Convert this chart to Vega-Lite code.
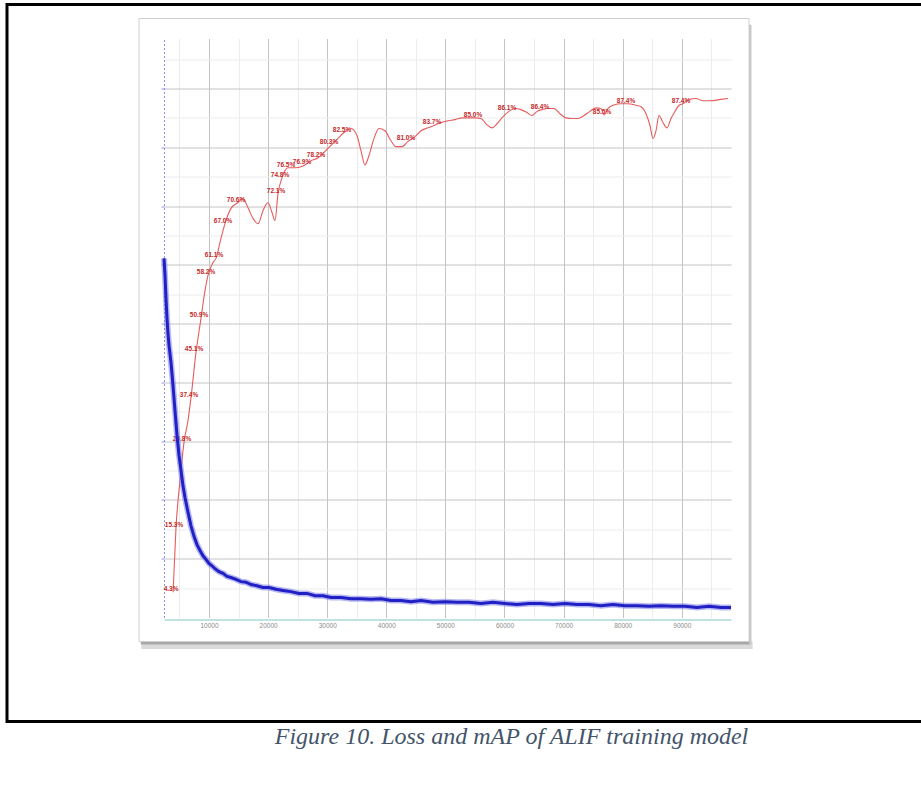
{
  "$schema": "https://vega.github.io/schema/vega-lite/v6.json",
  "background": "white",
  "padding": {"left": 5, "top": 2.5, "right": 0, "bottom": 0},
  "spacing": -3,
  "config": {
    "view": {"stroke": "black", "strokeWidth": 3},
    "font": "Liberation Sans"
  },
  "datasets": {
    "loss": [
      {"it": 2386, "loss": 6.11}, {"it": 2555, "loss": 5.82}, {"it": 2724, "loss": 5.43}, {"it": 2893, "loss": 5.09},
      {"it": 3063, "loss": 4.83}, {"it": 3232, "loss": 4.63}, {"it": 3570, "loss": 4.34}, {"it": 3909, "loss": 3.95},
      {"it": 4247, "loss": 3.52}, {"it": 4586, "loss": 3.10}, {"it": 4924, "loss": 2.76}, {"it": 5262, "loss": 2.50},
      {"it": 5601, "loss": 2.24}, {"it": 5939, "loss": 2.04}, {"it": 6447, "loss": 1.79}, {"it": 6954, "loss": 1.56},
      {"it": 7462, "loss": 1.38}, {"it": 7970, "loss": 1.24}, {"it": 8477, "loss": 1.14}, {"it": 8985, "loss": 1.05},
      {"it": 9492, "loss": 0.99}, {"it": 10000, "loss": 0.92}, {"it": 10508, "loss": 0.88}, {"it": 11015, "loss": 0.83},
      {"it": 11692, "loss": 0.78}, {"it": 12369, "loss": 0.75}, {"it": 13046, "loss": 0.70}, {"it": 13722, "loss": 0.68},
      {"it": 14568, "loss": 0.65}, {"it": 15414, "loss": 0.61}, {"it": 16260, "loss": 0.60}, {"it": 17106, "loss": 0.56},
      {"it": 18121, "loss": 0.54}, {"it": 19137, "loss": 0.51}, {"it": 20152, "loss": 0.51}, {"it": 21336, "loss": 0.48},
      {"it": 22520, "loss": 0.46}, {"it": 23874, "loss": 0.44}, {"it": 25228, "loss": 0.41}, {"it": 26581, "loss": 0.41},
      {"it": 27935, "loss": 0.37}, {"it": 29288, "loss": 0.37}, {"it": 30642, "loss": 0.34}, {"it": 32334, "loss": 0.34},
      {"it": 34026, "loss": 0.32}, {"it": 35718, "loss": 0.32}, {"it": 37410, "loss": 0.31}, {"it": 39103, "loss": 0.32},
      {"it": 40795, "loss": 0.29}, {"it": 42487, "loss": 0.29}, {"it": 44179, "loss": 0.27}, {"it": 45871, "loss": 0.29},
      {"it": 47902, "loss": 0.26}, {"it": 49932, "loss": 0.27}, {"it": 51963, "loss": 0.26}, {"it": 53993, "loss": 0.26},
      {"it": 56024, "loss": 0.24}, {"it": 58054, "loss": 0.26}, {"it": 60085, "loss": 0.24}, {"it": 62115, "loss": 0.22},
      {"it": 64146, "loss": 0.24}, {"it": 66176, "loss": 0.24}, {"it": 68207, "loss": 0.22}, {"it": 70237, "loss": 0.24},
      {"it": 72268, "loss": 0.22}, {"it": 74298, "loss": 0.22}, {"it": 76329, "loss": 0.20}, {"it": 78359, "loss": 0.22},
      {"it": 80390, "loss": 0.20}, {"it": 82420, "loss": 0.20}, {"it": 84451, "loss": 0.19}, {"it": 86481, "loss": 0.20},
      {"it": 88512, "loss": 0.19}, {"it": 90542, "loss": 0.19}, {"it": 92573, "loss": 0.17}, {"it": 94603, "loss": 0.19},
      {"it": 96634, "loss": 0.17}, {"it": 98326, "loss": 0.17}
    ],
    "map": [
      {"it": 3925, "map": 0.043, "lab": 1}, {"it": 4416, "map": 0.153, "lab": 1}, {"it": 5093, "map": 0.233, "lab": 0},
      {"it": 5770, "map": 0.298, "lab": 1}, {"it": 6447, "map": 0.335, "lab": 0}, {"it": 6954, "map": 0.374, "lab": 1},
      {"it": 7800, "map": 0.451, "lab": 1}, {"it": 8646, "map": 0.509, "lab": 1}, {"it": 9323, "map": 0.556, "lab": 0},
      {"it": 9831, "map": 0.582, "lab": 1}, {"it": 10677, "map": 0.604, "lab": 0}, {"it": 11184, "map": 0.611, "lab": 1},
      {"it": 12030, "map": 0.645, "lab": 0}, {"it": 12707, "map": 0.670, "lab": 1}, {"it": 13722, "map": 0.696, "lab": 0},
      {"it": 14907, "map": 0.706, "lab": 1}, {"it": 15753, "map": 0.713, "lab": 0}, {"it": 16599, "map": 0.697, "lab": 0},
      {"it": 17445, "map": 0.679, "lab": 0}, {"it": 18290, "map": 0.670, "lab": 0}, {"it": 19137, "map": 0.692, "lab": 0},
      {"it": 19983, "map": 0.706, "lab": 0}, {"it": 20660, "map": 0.689, "lab": 0}, {"it": 21167, "map": 0.675, "lab": 0},
      {"it": 21675, "map": 0.721, "lab": 1}, {"it": 22352, "map": 0.748, "lab": 1}, {"it": 23367, "map": 0.765, "lab": 1},
      {"it": 24721, "map": 0.765, "lab": 0}, {"it": 26074, "map": 0.769, "lab": 1}, {"it": 27259, "map": 0.777, "lab": 0},
      {"it": 28443, "map": 0.782, "lab": 1}, {"it": 29628, "map": 0.793, "lab": 0}, {"it": 30643, "map": 0.803, "lab": 1},
      {"it": 31827, "map": 0.815, "lab": 0}, {"it": 32842, "map": 0.825, "lab": 1}, {"it": 34027, "map": 0.832, "lab": 0},
      {"it": 35042, "map": 0.820, "lab": 0}, {"it": 35718, "map": 0.794, "lab": 0}, {"it": 36395, "map": 0.770, "lab": 0},
      {"it": 37072, "map": 0.786, "lab": 0}, {"it": 37918, "map": 0.815, "lab": 0}, {"it": 38764, "map": 0.832, "lab": 0},
      {"it": 39779, "map": 0.828, "lab": 0}, {"it": 40795, "map": 0.811, "lab": 0}, {"it": 41641, "map": 0.801, "lab": 0},
      {"it": 42656, "map": 0.801, "lab": 0}, {"it": 43672, "map": 0.810, "lab": 1}, {"it": 44856, "map": 0.818, "lab": 0},
      {"it": 45871, "map": 0.828, "lab": 0}, {"it": 47056, "map": 0.833, "lab": 0}, {"it": 48071, "map": 0.837, "lab": 1},
      {"it": 49255, "map": 0.842, "lab": 0}, {"it": 50440, "map": 0.845, "lab": 0}, {"it": 51624, "map": 0.847, "lab": 0},
      {"it": 52809, "map": 0.850, "lab": 0}, {"it": 53993, "map": 0.850, "lab": 0}, {"it": 55008, "map": 0.850, "lab": 1},
      {"it": 56024, "map": 0.849, "lab": 0}, {"it": 57039, "map": 0.838, "lab": 0}, {"it": 57885, "map": 0.833, "lab": 0},
      {"it": 58731, "map": 0.840, "lab": 0}, {"it": 59746, "map": 0.852, "lab": 0}, {"it": 60762, "map": 0.861, "lab": 1},
      {"it": 61777, "map": 0.866, "lab": 0}, {"it": 62792, "map": 0.864, "lab": 0}, {"it": 63807, "map": 0.859, "lab": 0},
      {"it": 64653, "map": 0.854, "lab": 0}, {"it": 65499, "map": 0.861, "lab": 0}, {"it": 66345, "map": 0.864, "lab": 1},
      {"it": 67360, "map": 0.866, "lab": 0}, {"it": 68376, "map": 0.866, "lab": 0}, {"it": 69391, "map": 0.857, "lab": 0},
      {"it": 70406, "map": 0.850, "lab": 0}, {"it": 71421, "map": 0.849, "lab": 0}, {"it": 72437, "map": 0.849, "lab": 0},
      {"it": 73452, "map": 0.854, "lab": 0}, {"it": 74467, "map": 0.861, "lab": 0}, {"it": 75482, "map": 0.867, "lab": 0},
      {"it": 76329, "map": 0.866, "lab": 0}, {"it": 76836, "map": 0.855, "lab": 1}, {"it": 77513, "map": 0.866, "lab": 0},
      {"it": 78528, "map": 0.872, "lab": 0}, {"it": 79712, "map": 0.874, "lab": 0}, {"it": 80897, "map": 0.874, "lab": 1},
      {"it": 82081, "map": 0.872, "lab": 0}, {"it": 83096, "map": 0.869, "lab": 0}, {"it": 83942, "map": 0.857, "lab": 0},
      {"it": 84619, "map": 0.837, "lab": 0}, {"it": 85127, "map": 0.815, "lab": 0}, {"it": 85634, "map": 0.828, "lab": 0},
      {"it": 86142, "map": 0.854, "lab": 0}, {"it": 86819, "map": 0.842, "lab": 0}, {"it": 87496, "map": 0.833, "lab": 0},
      {"it": 88173, "map": 0.849, "lab": 0}, {"it": 88850, "map": 0.861, "lab": 0}, {"it": 89526, "map": 0.871, "lab": 0},
      {"it": 90203, "map": 0.874, "lab": 1}, {"it": 91218, "map": 0.881, "lab": 0}, {"it": 92403, "map": 0.883, "lab": 0},
      {"it": 93587, "map": 0.879, "lab": 0}, {"it": 94941, "map": 0.879, "lab": 0}, {"it": 96295, "map": 0.881, "lab": 0},
      {"it": 97817, "map": 0.883, "lab": 0}
    ]
  },
  "vconcat": [
    {
      "width": 920,
      "height": 717,
      "resolve": {"scale": {"x": "independent", "y": "independent"}},
      "layer": [
        {
          "data": {"values": [{}]},
          "layer": [
            {
              "mark": {"type": "rect", "fill": "#dadada"},
              "encoding": {
                "x": {"datum": 0.004, "type": "quantitative", "scale": {"domain": [0, 1], "range": [132, 742], "nice": false, "zero": false}, "axis": null},
                "x2": {"datum": 1.006},
                "y": {"datum": 1.0, "type": "quantitative", "scale": {"domain": [0, 1], "range": [14, 637], "nice": false, "zero": false}, "axis": null},
                "y2": {"datum": 1.012}
              }
            },
            {
              "mark": {"type": "rect", "fill": "#a8a8a8"},
              "encoding": {
                "x": {"datum": 0.003, "type": "quantitative", "scale": {"domain": [0, 1], "range": [132, 742], "nice": false, "zero": false}, "axis": null},
                "x2": {"datum": 1.003},
                "y": {"datum": 1.0, "type": "quantitative", "scale": {"domain": [0, 1], "range": [14, 637], "nice": false, "zero": false}, "axis": null},
                "y2": {"datum": 1.005}
              }
            },
            {
              "mark": {"type": "rect", "fill": "#c6c6c6"},
              "encoding": {
                "x": {"datum": 1.0, "type": "quantitative", "scale": {"domain": [0, 1], "range": [132, 742], "nice": false, "zero": false}, "axis": null},
                "x2": {"datum": 1.004},
                "y": {"datum": 0.01, "type": "quantitative", "scale": {"domain": [0, 1], "range": [14, 637], "nice": false, "zero": false}, "axis": null},
                "y2": {"datum": 1.004}
              }
            },
            {
              "mark": {"type": "rect", "filled": false, "stroke": "#cfcfcf", "strokeWidth": 1},
              "encoding": {
                "x": {"datum": 0, "type": "quantitative", "scale": {"domain": [0, 1], "range": [132, 742], "nice": false, "zero": false}, "axis": null},
                "x2": {"datum": 1},
                "y": {"datum": 0, "type": "quantitative", "scale": {"domain": [0, 1], "range": [14, 637], "nice": false, "zero": false}, "axis": null},
                "y2": {"datum": 1}
              }
            }
          ]
        },
        {
          "data": {"values": []},
          "mark": {"type": "point", "opacity": 0},
          "encoding": {
            "x": {
              "field": "it", "type": "quantitative",
              "scale": {"domain": [2386, 98326], "range": [157, 724], "nice": false, "zero": false},
              "axis": {"orient": "top", "offset": 0, "values": [5000, 15000, 25000, 35000, 45000, 55000, 65000, 75000, 85000, 95000], "grid": true, "gridColor": "#ececec", "gridWidth": 1, "domain": false, "ticks": false, "labels": false, "title": null}
            },
            "y": {
              "field": "loss", "type": "quantitative",
              "scale": {"domain": [0, 9.85], "range": [613, 34], "nice": false, "zero": false},
              "axis": {"orient": "left", "offset": -157, "values": [0.5, 1.5, 2.5, 3.5, 4.5, 5.5, 6.5, 7.5, 8.5, 9.5], "grid": true, "gridColor": "#ececec", "gridWidth": 1, "domain": false, "ticks": false, "labels": false, "title": null}
            }
          }
        },
        {
          "data": {"values": []},
          "mark": {"type": "point", "opacity": 0},
          "encoding": {
            "x": {
              "field": "it", "type": "quantitative",
              "scale": {"domain": [2386, 98326], "range": [157, 724], "nice": false, "zero": false},
              "axis": {"orient": "top", "offset": 0, "values": [10000, 20000, 30000, 40000, 50000, 60000, 70000, 80000, 90000], "grid": true, "gridColor": "#c4c4c4", "gridWidth": 1, "domain": false, "ticks": false, "labels": false, "title": null}
            },
            "y": {
              "field": "loss", "type": "quantitative",
              "scale": {"domain": [0, 9.85], "range": [613, 34], "nice": false, "zero": false},
              "axis": {"orient": "left", "offset": -157, "values": [1, 2, 3, 4, 5, 6, 7, 8, 9], "grid": true, "gridColor": "#c4c4c4", "gridWidth": 1, "domain": true, "domainColor": "#8f8ff0", "domainDash": [2, 2], "domainWidth": 1, "ticks": true, "tickColor": "#8f8ff0", "tickSize": 3, "labels": false, "title": null}
            }
          }
        },
        {
          "data": {"name": "map"},
          "mark": {"type": "line", "color": "#e65c5c", "strokeWidth": 1.1, "interpolate": "monotone"},
          "encoding": {
            "x": {"field": "it", "type": "quantitative", "scale": {"domain": [2386, 98326], "range": [157, 724], "nice": false, "zero": false}, "axis": null},
            "y": {"field": "map", "type": "quantitative", "scale": {"domain": [0, 0.985], "range": [613, 34], "nice": false, "zero": false}, "axis": null}
          }
        },
        {
          "data": {"name": "map"},
          "transform": [{"filter": "datum.lab == 1"}],
          "mark": {"type": "text", "color": "#c42a2a", "fontSize": 6.5, "fontWeight": "bold", "dx": -2, "dy": -3},
          "encoding": {
            "x": {"field": "it", "type": "quantitative", "scale": {"domain": [2386, 98326], "range": [157, 724], "nice": false, "zero": false}, "axis": null},
            "y": {"field": "map", "type": "quantitative", "scale": {"domain": [0, 0.985], "range": [613, 34], "nice": false, "zero": false}, "axis": null},
            "text": {"field": "map", "type": "quantitative", "format": ".1%"}
          }
        },
        {
          "data": {"name": "loss"},
          "mark": {"type": "line", "color": "#7c7ce8", "strokeWidth": 6, "opacity": 0.55},
          "encoding": {
            "x": {
              "field": "it", "type": "quantitative",
              "scale": {"domain": [2386, 98326], "range": [157, 724], "nice": false, "zero": false},
              "axis": {"orient": "bottom", "offset": -102, "values": [10000, 20000, 30000, 40000, 50000, 60000, 70000, 80000, 90000], "format": "d", "grid": false, "domain": true, "domainColor": "#bfe2df", "domainWidth": 2, "ticks": false, "labels": true, "labelFontSize": 6.5, "labelColor": "#8c8c8c", "labelPadding": 3, "title": null}
            },
            "y": {"field": "loss", "type": "quantitative", "scale": {"domain": [0, 9.85], "range": [613, 34], "nice": false, "zero": false}, "axis": null}
          }
        },
        {
          "data": {"name": "loss"},
          "mark": {"type": "line", "color": "#2020c4", "strokeWidth": 3},
          "encoding": {
            "x": {"field": "it", "type": "quantitative", "scale": {"domain": [2386, 98326], "range": [157, 724], "nice": false, "zero": false}, "axis": null},
            "y": {"field": "loss", "type": "quantitative", "scale": {"domain": [0, 9.85], "range": [613, 34], "nice": false, "zero": false}, "axis": null}
          }
        }
      ]
    },
    {
      "width": 920,
      "height": 70,
      "data": {"values": [{"caption": "Figure 10. Loss and mAP of ALIF training model"}]},
      "mark": {"type": "text", "font": "Liberation Serif", "fontStyle": "italic", "fontSize": 24, "color": "#44546a", "align": "center", "baseline": "middle", "dx": 44.5, "dy": -22},
      "encoding": {"text": {"field": "caption", "type": "nominal"}}
    }
  ]
}
